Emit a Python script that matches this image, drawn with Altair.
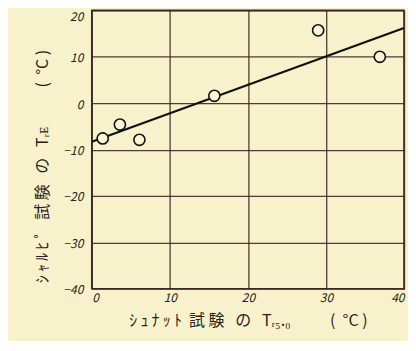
import altair as alt
import pandas as pd

# data
schnadt_tr50 = [1.4, 3.6, 6.1, 15.7, 29.0, 36.9]
charpy_tre = [-7.6, -4.6, -7.9, 1.6, 15.7, 10.0]
fit_x = [0, 40]
fit_y = [-8.3, 16.2]
x_ticks = [0, 10, 20, 30, 40]
y_ticks = [-40, -30, -20, -10, 0, 10, 20]

pts = pd.DataFrame({"x": schnadt_tr50, "y": charpy_tre})
fit = pd.DataFrame({"x": fit_x, "y": fit_y})

FONT = "Noto Sans CJK JP"
INK = "#2a1f1a"
GRID = "#3b2a22"
S = "\u00a0"
T = "\u2009"

x_title = (T.join("ｼｭﾅｯﾄ") + S * 2 + "試" + S + "験" + S * 3 + "の" + S * 3 + "Tᵣ₅.₀"
           + S * 11 + "(" + S * 2 + "°C" + S + ")")
y_title = (T.join("ｼｬﾙﾋﾟ") + S * 3 + "試" + S + "験" + S * 3 + "の" + S * 3 + "Tᵣᴇ"
           + S * 11 + "(" + S * 2 + "°C" + S + ")")

xs = alt.Scale(domain=[0, 40], nice=False, zero=False)
ys = alt.Scale(domain=[-40, 20], nice=False, zero=False)

xaxis = alt.Axis(values=x_ticks, grid=True, gridColor=GRID, gridOpacity=0.9, gridWidth=1.3,
                 ticks=False, domain=False, labelFont=FONT, labelFontStyle="italic",
                 labelFontSize=12, labelColor=INK, labelPadding=4,
                 title=x_title, titleFont=FONT, titleFontSize=16,
                 titleFontWeight="normal", titleColor=INK, titlePadding=9)
yaxis = alt.Axis(values=y_ticks, grid=True, gridColor=GRID, gridOpacity=0.9, gridWidth=1.3,
                 ticks=False, domain=False, labelFont=FONT, labelFontStyle="italic",
                 labelFontSize=12, labelColor=INK, labelPadding=9,
                 labelOffset=alt.condition("datum.value == 20", alt.value(6), alt.value(1)),
                 title=y_title, titleFont=FONT, titleFontSize=16, titleY=156,
                 titleFontWeight="normal", titleColor=INK, titlePadding=12)

line = alt.Chart(fit).mark_line(color="#111111", strokeWidth=2.2, clip=True).encode(
    x=alt.X("x:Q", scale=xs, axis=xaxis),
    y=alt.Y("y:Q", scale=ys, axis=yaxis),
)
points = alt.Chart(pts).mark_point(shape="circle", filled=True, fill="#fbf6d6",
                                   stroke="#111111", strokeWidth=1.6, size=125, opacity=1).encode(
    x=alt.X("x:Q", scale=xs),
    y=alt.Y("y:Q", scale=ys),
)

chart = (line + points).properties(
    width=313, height=279,
    autosize="none",
    padding={"left": 84, "top": 2, "right": 4, "bottom": 52},
    background="#f8f2cc",
).configure_view(stroke=GRID, strokeWidth=1.6)

chart.save("out.html", embed_options={"renderer": "svg", "actions": False})
